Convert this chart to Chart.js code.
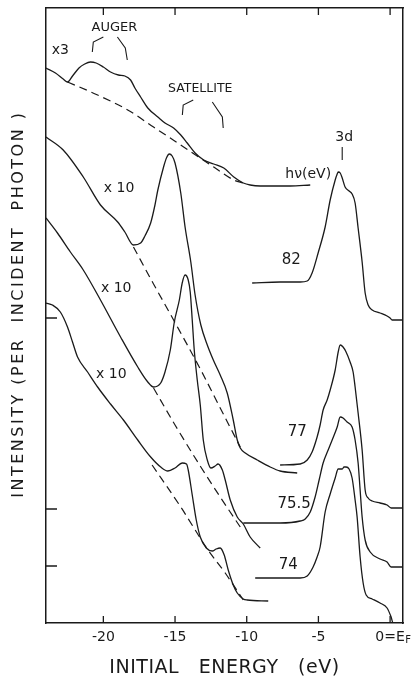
<!DOCTYPE html>
<html><head><meta charset="utf-8">
<script src="https://cdn.jsdelivr.net/npm/chart.js@4.4.1/dist/chart.umd.min.js"></script>
<style>html,body{margin:0;padding:0;background:#fff;}canvas{display:block;}</style>
</head><body>
<canvas id="c" width="418" height="682"></canvas>
<script>
// ---------- data (initial energy in eV, intensity in arbitrary units) ----------
// hv = 82 eV, low-energy region (x3) and its background
const e82lo = [-24, -23.34, -22.8, -22.5, -22.15, -21.7, -21.3, -20.9, -20.5, -20.0, -19.5, -18.95, -18.5, -18.1, -17.8, -17.4, -16.9, -16.2, -15.7, -15.1, -14.6, -14.15, -13.6, -13.0, -12.3, -11.6, -10.9, -10.24, -9.76, -9.06, -8.15, -6.97, -5.57];
const i82lo = [555, 550, 544, 541, 547, 555, 559, 561, 560, 556, 551, 548, 547, 543, 535, 526, 515, 506, 500, 495, 488, 480, 470, 463, 459, 455, 446, 440, 438, 437, 437, 437, 438];
const e82bg = [-22.5, -20.4, -18.3, -16.5, -14.4, -12.3, -10.9, -10.24];
const i82bg = [541, 528, 513, 496, 476, 456, 443, 440];
// hv = 77 eV (x10)
const e77lo = [-24, -22.8, -21.4, -20.2, -19.0, -18.5, -17.9, -17.4, -17.1, -16.7, -16.4, -16.2, -15.8, -15.6, -15.4, -15.2, -15.0, -14.6, -14.3, -13.9, -13.6, -13.2, -12.75, -12.33, -11.85, -11.36, -10.94, -10.66, -10.45, -10.1, -9.27, -8.36, -7.67, -6.48];
const i77lo = [486, 473, 446, 418, 401, 391, 378, 380, 387, 400, 418, 433, 456, 465, 469, 467, 460, 430, 396, 361, 328, 298, 278, 263, 248, 230, 203, 183, 175, 170, 163, 156, 152, 150];
const e77bg = [-17.9, -16.5, -15.1, -13.2, -11.85, -10.45];
const i77bg = [376, 339, 303, 253, 215, 176];
// hv = 75.5 eV (x10)
const e75lo = [-24, -23.2, -22.3, -21.4, -20.2, -18.8, -17.6, -16.9, -16.5, -16.0, -15.7, -15.33, -15.05, -14.7, -14.5, -14.3, -14.08, -13.94, -13.8, -13.66, -13.45, -13.24, -13.03, -12.75, -12.5, -12.2, -12.0, -11.7, -11.5, -11.15, -10.66, -10.24, -9.76, -9.06];
const i75lo = [405, 390, 371, 353, 323, 286, 256, 241, 236, 240, 251, 273, 301, 323, 340, 348, 343, 331, 303, 273, 243, 218, 183, 163, 155, 157, 159, 153, 143, 123, 106, 99, 86, 75];
const e75bg = [-16.5, -15.0, -13.2, -11.85, -10.45];
const i75bg = [235, 198, 156, 126, 96];
// hv = 74 eV (x10)
const e74lo = [-24, -23.55, -23.0, -22.5, -22.15, -21.8, -21.1, -20.4, -19.5, -18.6, -17.6, -16.7, -16.0, -15.5, -15.0, -14.5, -14.2, -14.08, -13.8, -13.52, -13.24, -12.82, -12.4, -12.13, -11.85, -11.57, -11.29, -10.94, -10.66, -10.24, -9.97, -8.5];
const i74lo = [320, 318, 311, 296, 281, 266, 251, 236, 219, 203, 183, 166, 156, 152, 155, 160, 159, 153, 128, 103, 86, 75, 72, 74, 75, 68, 53, 38, 30, 24, 23, 22];
const e74bg = [-16.6, -14.6, -12.7, -11.5, -10.24];
const i74bg = [158, 116, 73, 50, 23];
// 3d region (x1)
const e82d = [-9.62, -7.67, -6.27, -5.78, -5.44, -5.02, -4.53, -4.18, -3.83, -3.69, -3.62, -3.48, -3.34, -3.14, -2.86, -2.65, -2.44, -2.23, -1.95, -1.74, -1.53, -1.25, -0.7, -0.21, 0, 0.14, 0.91];
const i82d = [340, 341, 341, 342, 350, 370, 396, 423, 443, 449, 451, 450, 445, 436, 432, 429, 420, 395, 361, 330, 318, 313, 310, 307, 305, 303, 303];
const e77d = [-7.67, -6.27, -5.78, -5.44, -5.09, -4.88, -4.67, -4.39, -4.18, -3.83, -3.62, -3.48, -3.28, -3.07, -2.79, -2.58, -2.44, -2.23, -1.95, -1.74, -1.53, -1.25, -0.7, -0.21, 0.07, 0.91];
const i77d = [158, 159, 163, 171, 186, 198, 213, 223, 233, 253, 271, 278, 276, 271, 261, 251, 236, 210, 173, 133, 125, 122, 120, 118, 115, 115];
const e75d = [-10.24, -7.67, -6.27, -5.92, -5.57, -5.23, -4.95, -4.67, -4.32, -4.04, -3.69, -3.48, -3.28, -3.0, -2.65, -2.44, -2.23, -2.09, -1.95, -1.74, -1.39, -0.7, -0.21, 0.07, 0.91];
const i75d = [100, 100, 102, 104, 111, 126, 143, 160, 173, 183, 196, 206, 205, 201, 196, 183, 160, 133, 106, 83, 71, 64, 61, 56, 56];
const e74d = [-9.41, -6.27, -5.78, -5.37, -5.09, -4.88, -4.53, -4.18, -3.83, -3.62, -3.34, -3.21, -3.07, -2.86, -2.65, -2.44, -2.30, -2.09, -1.88, -1.67, -1.25, -0.7, -0.21, 0.07, 0.21, 0.91];
const i74d = [45, 45, 47, 56, 66, 76, 111, 129, 145, 154, 154, 156, 156, 154, 145, 123, 106, 66, 40, 28, 24, 20, 15, 6, 0, 0];

// axis ticks
const xTickVals = [-20, -15, -10, -5, 0];
const yTickVals = [57, 114, 305];

// annotation texts: [text, energy, intensity, font size]
const notes = [
  ['x3', -23.0, 573, 14],
  ['AUGER', -19.23, 595, 13],
  ['SATELLITE', -13.24, 534, 12.5],
  ['x 10', -18.9, 435, 14],
  ['x 10', -19.1, 335, 14],
  ['x 10', -19.44, 249, 14],
  ['h\u03bd(eV)', -5.71, 449, 14],
  ['3d', -3.2, 486, 14],
  ['82', -6.9, 363, 15],
  ['77', -6.48, 191, 15],
  ['75.5', -6.69, 119, 15],
  ['74', -7.1, 58, 15]
];
const brackets = [
  [[-20.77, 571], [-20.7, 581], [-20.0, 586]],
  [[-19.02, 586], [-18.47, 575], [-18.33, 563]],
  [[-14.49, 508], [-14.43, 518], [-13.73, 523]],
  [[-12.4, 521], [-11.7, 506], [-11.64, 495]],
  [[-3.34, 476], [-3.34, 463]]
];

const INK = '#1a1a1a';
const FONT = '"DejaVu Sans", "Liberation Sans", sans-serif';
const W = 'normal';

function series(ex, iy, dashed) {
  return {
    data: ex.map((x, k) => ({x: x, y: iy[k]})),
    borderColor: INK, borderWidth: dashed ? 1.2 : 1.3,
    borderDash: dashed ? [8, 5] : [],
    pointRadius: 0, fill: false, cubicInterpolationMode: 'monotone'
  };
}

const titleSpacing = {x: '0.5px', y: '2.5px'};
const spacingPlugin = {
  id: 'spacing',
  afterLayout(chart) {
    for (const id of Object.keys(chart.scales)) {
      const s = chart.scales[id];
      if (s._wrappedTitle) continue;
      const orig = s.drawTitle;
      s.drawTitle = function () {
        const c = this.ctx; c.save();
        c.letterSpacing = titleSpacing[id] || '0px';
        orig.apply(this, arguments);
        c.restore();
      };
      s._wrappedTitle = true;
    }
  }
};

const decoPlugin = {
  id: 'deco',
  afterDraw(chart) {
    const {ctx, chartArea: a, scales: {x, y}} = chart;
    ctx.save();
    ctx.strokeStyle = INK; ctx.fillStyle = INK; ctx.lineWidth = 1.3;
    // inward tick marks
    ctx.beginPath();
    xTickVals.forEach(v => {
      const px = x.getPixelForValue(v);
      ctx.moveTo(px, a.bottom); ctx.lineTo(px, a.bottom - 7);
      ctx.moveTo(px, a.top); ctx.lineTo(px, a.top + 7);
    });
    yTickVals.forEach(v => {
      const py = y.getPixelForValue(v);
      ctx.moveTo(a.left, py); ctx.lineTo(a.left + 11, py);
    });
    ctx.stroke();
    // brackets
    ctx.lineWidth = 1.1;
    brackets.forEach(b => {
      ctx.beginPath();
      b.forEach((p, k) => {
        const px = x.getPixelForValue(p[0]), py = y.getPixelForValue(p[1]);
        if (k) ctx.lineTo(px, py); else ctx.moveTo(px, py);
      });
      ctx.stroke();
    });
    // labels
    ctx.textAlign = 'center'; ctx.textBaseline = 'middle';
    notes.forEach(n => {
      ctx.font = W + ' ' + n[3] + 'px ' + FONT;
      ctx.fillText(n[0], x.getPixelForValue(n[1]), y.getPixelForValue(n[2]));
    });
    // subscript F of E_F
    ctx.font = W + ' 14px ' + FONT;
    const w = ctx.measureText('0=E').width;
    ctx.font = W + ' 10px ' + FONT;
    ctx.textAlign = 'left';
    ctx.fillText('F', x.getPixelForValue(0) + w / 2 + 0.5, x.top + 17);
    ctx.restore();
  }
};

new Chart(document.getElementById('c'), {
  type: 'line',
  data: {
    datasets: [
      series(e82lo, i82lo, false), series(e82bg, i82bg, true),
      series(e77lo, i77lo, false), series(e77bg, i77bg, true),
      series(e75lo, i75lo, false), series(e75bg, i75bg, true),
      series(e74lo, i74lo, false), series(e74bg, i74bg, true),
      series(e82d, i82d, false), series(e77d, i77d, false),
      series(e75d, i75d, false), series(e74d, i74d, false)
    ]
  },
  options: {
    responsive: false, animation: false, devicePixelRatio: 1,
    layout: {padding: 0},
    plugins: {legend: {display: false}, tooltip: {enabled: false}},
    scales: {
      x: {
        type: 'linear', position: 'bottom', min: -24, max: 0.9,
        afterBuildTicks: s => { s.ticks = xTickVals.map(v => ({value: v})); },
        afterFit: s => { s.height = 59; },
        ticks: {callback: v => (v === 0 ? '0=E' : String(v)), font: {family: FONT, size: 14, weight: W}, color: INK, padding: 6, maxRotation: 0, autoSkip: false},
        grid: {display: false, drawTicks: false},
        border: {display: true, color: INK, width: 1.5},
        title: {display: true, text: 'INITIAL   ENERGY   (eV)', font: {family: FONT, size: 19, weight: W}, color: INK, padding: {top: 0, bottom: 3}}
      },
      y: {
        type: 'linear', position: 'left', min: 0, max: 615,
        afterFit: s => { s.width = 46; },
        ticks: {display: false},
        grid: {display: false, drawTicks: false},
        border: {display: true, color: INK, width: 1.5},
        title: {display: true, text: '   INTENSITY (PER  INCIDENT  PHOTON )', font: {family: FONT, size: 16, weight: W}, color: INK, padding: {top: 9, bottom: 0}}
      },
      x2: {
        type: 'linear', position: 'top', min: -24, max: 0.9,
        afterFit: s => { s.height = 8; },
        ticks: {display: false}, grid: {display: false, drawTicks: false},
        border: {display: true, color: INK, width: 1.5}
      },
      y2: {
        type: 'linear', position: 'right', min: 0, max: 615,
        afterFit: s => { s.width = 15; },
        ticks: {display: false}, grid: {display: false, drawTicks: false},
        border: {display: true, color: INK, width: 1.5}
      }
    }
  },
  plugins: [spacingPlugin, decoPlugin]
});
</script>
</body></html>
